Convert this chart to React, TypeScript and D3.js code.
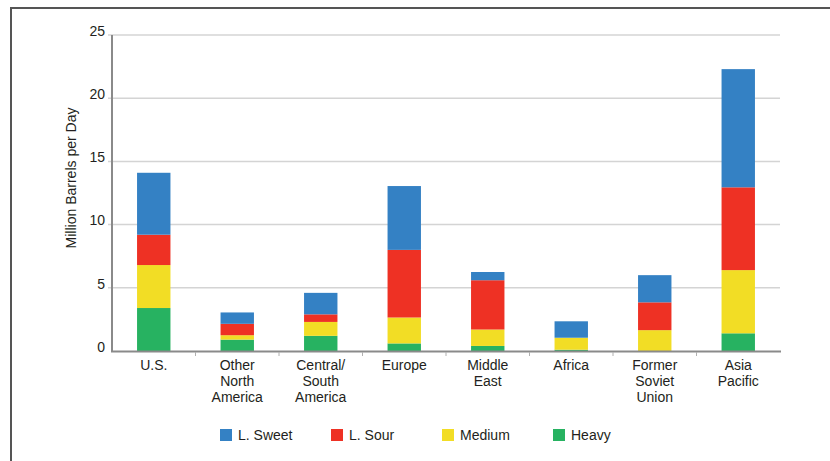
import React from "react";
import * as d3 from "d3";

const width = 830;
const height = 461;

// category labels, one entry per line
const categories = [
  ["U.S."],
  ["Other", "North", "America"],
  ["Central/", "South", "America"],
  ["Europe"],
  ["Middle", "East"],
  ["Africa"],
  ["Former", "Soviet", "Union"],
  ["Asia", "Pacific"],
];

// million barrels per day
const heavy = [3.4, 0.9, 1.2, 0.6, 0.4, 0.1, 0, 1.4];
const medium = [3.4, 0.35, 1.1, 2.05, 1.3, 0.95, 1.65, 5.0];
const lSour = [2.4, 0.9, 0.6, 5.35, 3.9, 0, 2.2, 6.55];
const lSweet = [4.9, 0.9, 1.7, 5.05, 0.65, 1.3, 2.15, 9.35];

const seriesKeys = ["Heavy", "Medium", "L. Sour", "L. Sweet"];
const legendKeys = ["L. Sweet", "L. Sour", "Medium", "Heavy"];
const yTicks = [0, 5, 10, 15, 20, 25];

const colors: Record<string, string> = {
  "L. Sweet": "#3481c4",
  "L. Sour": "#ee3124",
  Medium: "#f2dd25",
  Heavy: "#27b261",
};

const font = "'Liberation Sans', Arial, sans-serif";
const textColor = "#231f20";

export default function App() {
  const names = categories.map((c) => c.join(" "));
  const rows = names.map((name, i) => ({
    name,
    Heavy: heavy[i],
    Medium: medium[i],
    "L. Sour": lSour[i],
    "L. Sweet": lSweet[i],
  }));

  const stacked = d3.stack<any>().keys(seriesKeys)(rows);

  const x = d3
    .scaleBand()
    .domain(names)
    .range([112, 780])
    .paddingInner(0.6)
    .paddingOuter(0.3);

  const y = d3.scaleLinear().domain([0, 25]).range([351, 35]);

  const legendX = d3.scalePoint().domain(legendKeys).range([220, 553]);

  return (
    <svg
      width={width}
      height={height}
      style={{ position: "absolute", left: 0, top: 0, background: "#fff" }}
    >
      {/* frame */}
      <line x1={10} x2={830} y1={8} y2={8} stroke="#555" strokeWidth={2} />
      <line x1={11} x2={11} y1={8} y2={461} stroke="#555" strokeWidth={2} />

      {/* gridlines + y ticks */}
      {yTicks.map((t) => (
        <g key={t}>
          {t > 0 && (
            <line
              x1={108}
              x2={780}
              y1={y(t)}
              y2={y(t)}
              stroke="#d4d4d4"
              strokeWidth={1.5}
            />
          )}
          <text
            x={105}
            y={y(t)}
            dy="0.05em"
            textAnchor="end"
            fontFamily={font}
            fontSize={14}
            fill={textColor}
          >
            {t}
          </text>
        </g>
      ))}

      {/* bars */}
      {stacked.map((s) => (
        <g key={s.key} fill={colors[s.key]}>
          {s.map((d, i) => (
            <rect
              key={i}
              x={x(names[i])}
              width={x.bandwidth()}
              y={y(d[1])}
              height={Math.max(0, y(d[0]) - y(d[1]))}
            />
          ))}
        </g>
      ))}

      {/* axes */}
      <line x1={112} x2={112} y1={35} y2={352} stroke="#8a8a8a" strokeWidth={2} />
      <line x1={111} x2={781} y1={351.5} y2={351.5} stroke="#8a8a8a" strokeWidth={2} />
      {names.map((n, i) =>
        i === 0 ? null : (
          <line
            key={n}
            x1={x(n)! - x.step() * 0.3}
            x2={x(n)! - x.step() * 0.3}
            y1={352}
            y2={356}
            stroke="#b0b0b0"
            strokeWidth={1}
          />
        )
      )}

      {/* category labels */}
      {categories.map((lines, i) => (
        <text
          key={i}
          x={x(names[i])! + x.bandwidth() / 2}
          y={370}
          textAnchor="middle"
          fontFamily={font}
          fontSize={14}
          fill={textColor}
        >
          {lines.map((l, j) => (
            <tspan key={j} x={x(names[i])! + x.bandwidth() / 2} dy={j === 0 ? 0 : 16}>
              {l}
            </tspan>
          ))}
        </text>
      ))}

      {/* y axis title */}
      <text
        transform={`translate(76,178) rotate(-90)`}
        textAnchor="middle"
        fontFamily={font}
        fontSize={14}
        fill={textColor}
      >
        Million Barrels per Day
      </text>

      {/* legend */}
      {legendKeys.map((k) => (
        <g key={k} transform={`translate(${legendX(k)},429)`}>
          <rect width={12} height={12} fill={colors[k]} />
          <text
            x={18}
            y={11}
            fontFamily={font}
            fontSize={14}
            fill={textColor}
          >
            {k}
          </text>
        </g>
      ))}
    </svg>
  );
}
